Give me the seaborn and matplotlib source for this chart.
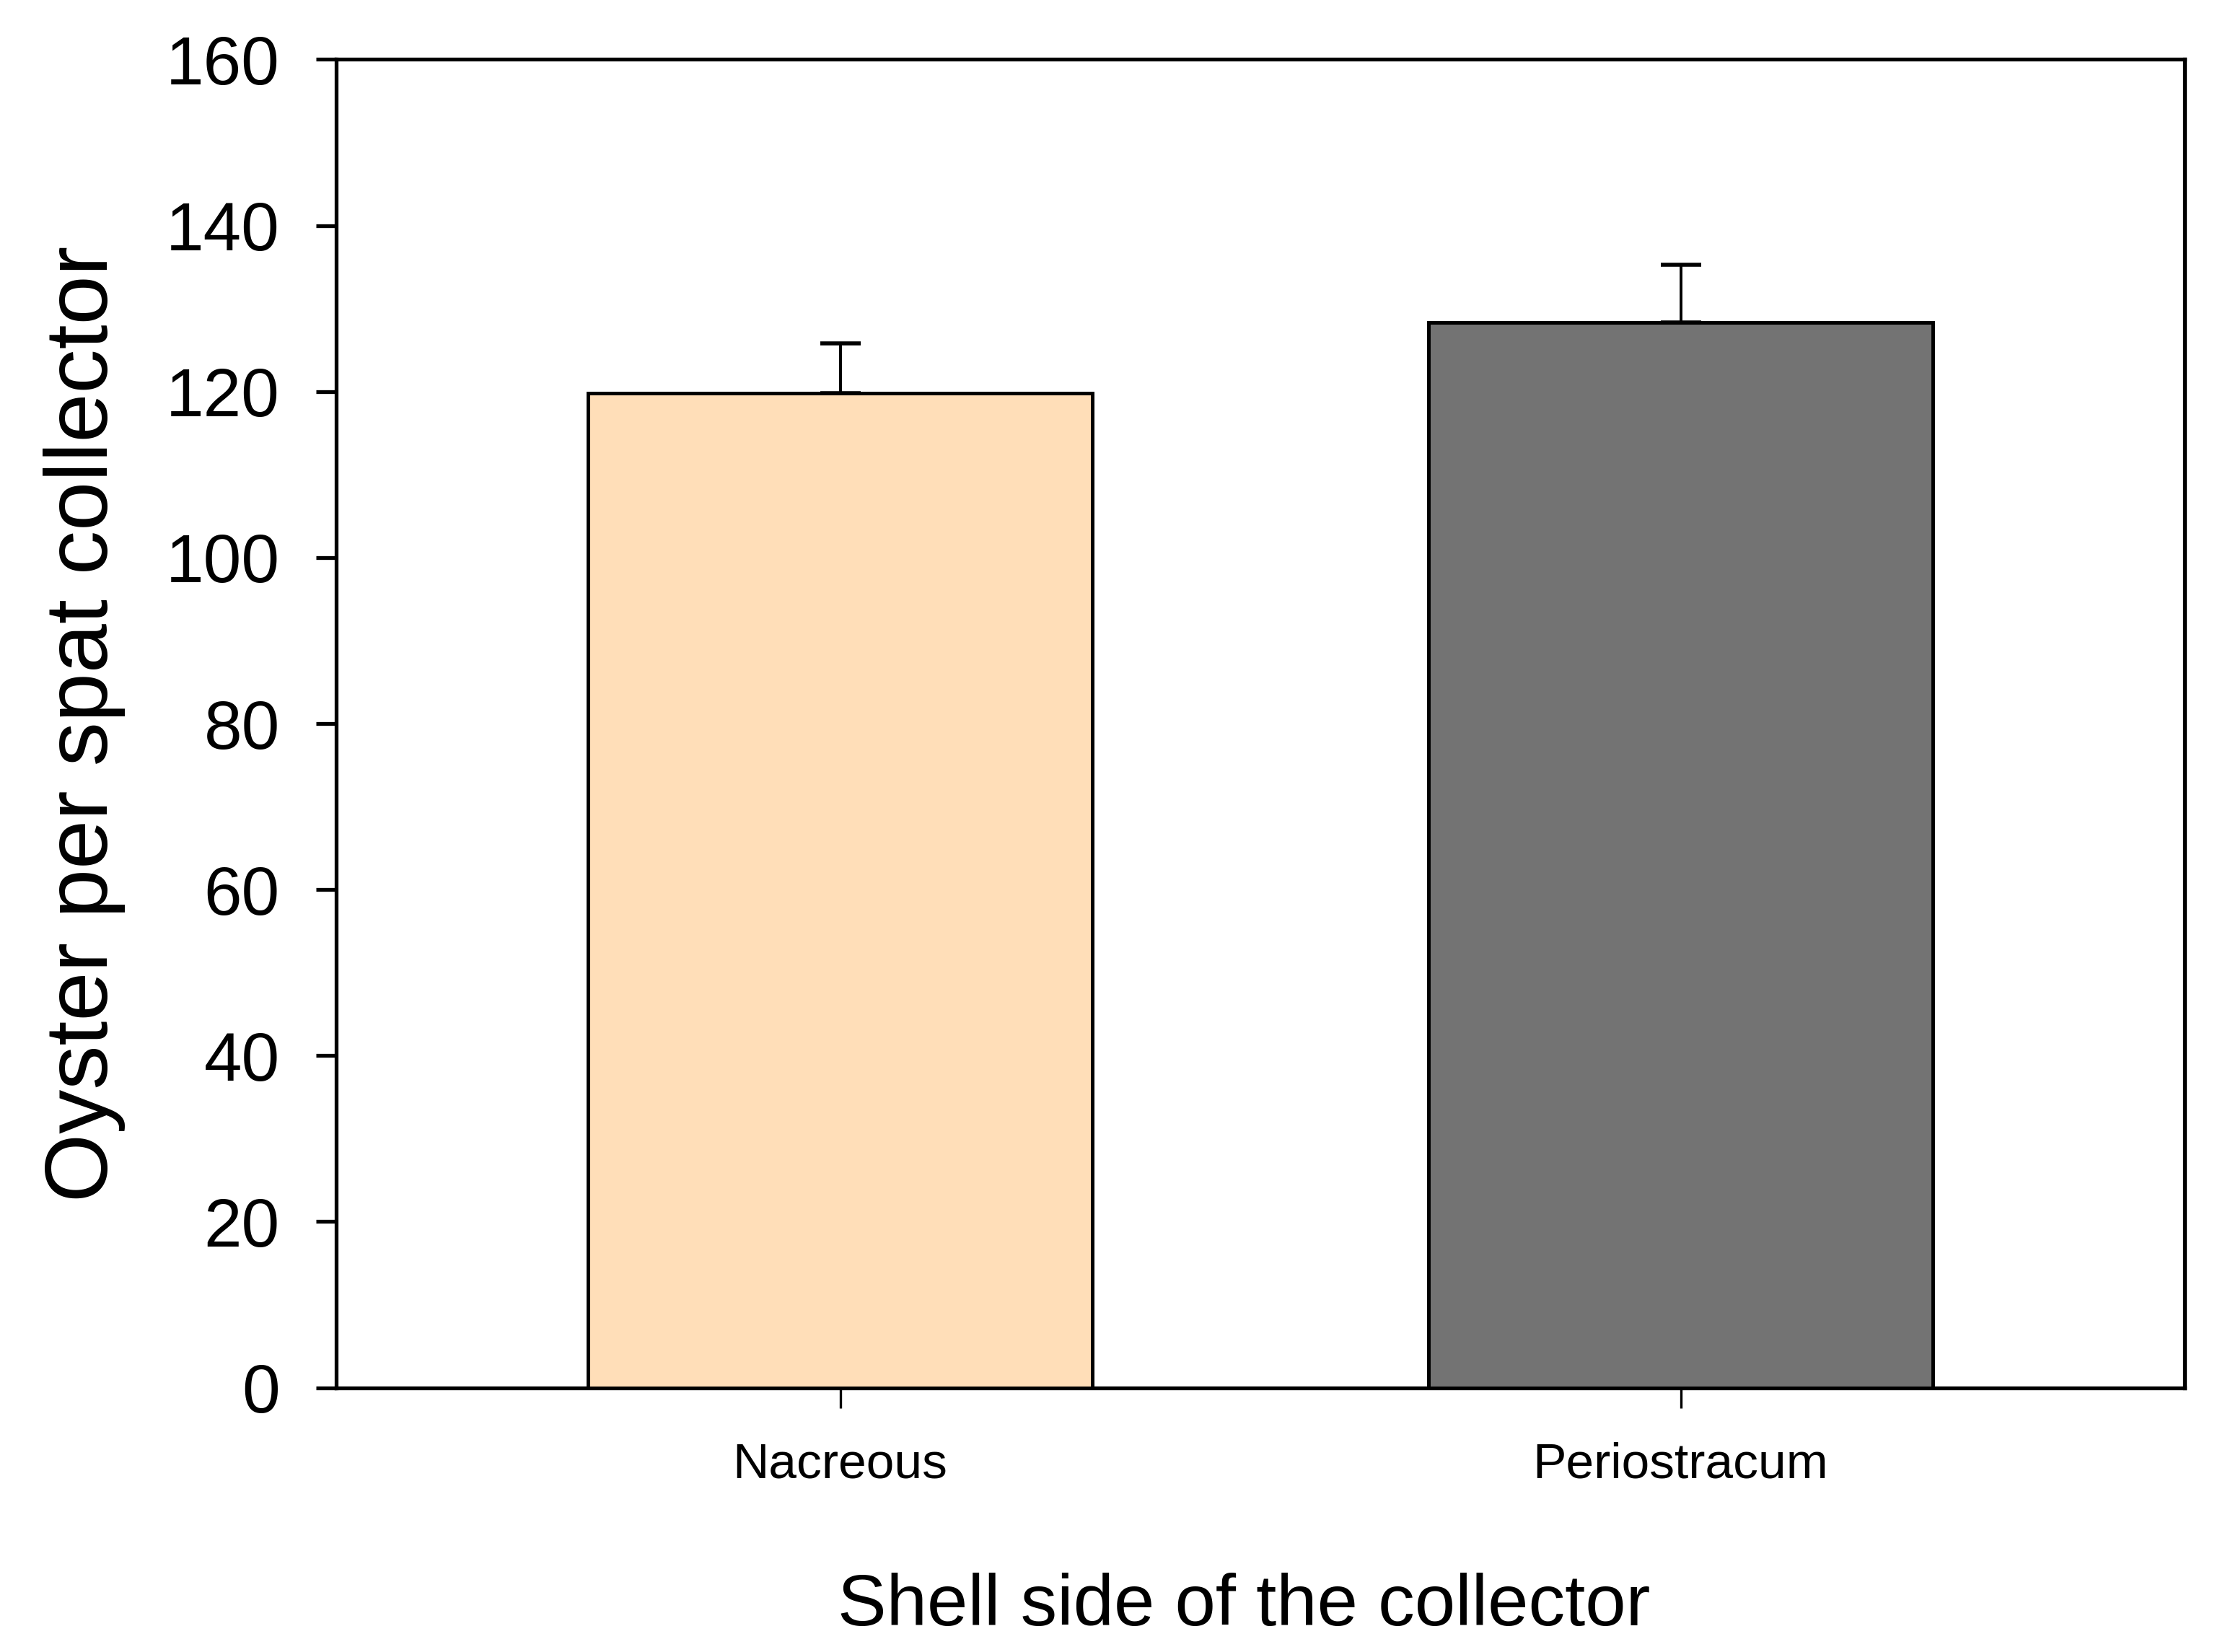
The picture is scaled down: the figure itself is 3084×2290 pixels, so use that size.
"""
Oyster spat per collector, by shell side (bar + SE).
"""

import numpy as np
import pandas as pd
import matplotlib
matplotlib.use('Agg')
import matplotlib.pyplot as plt
import seaborn as sns

# ------------------------------------------------------------------
# DATOS
# ------------------------------------------------------------------
shell_sides = ['Nacreous', 'Periostracum']
mean_oysters = [119.8, 128.3]
se_oysters   = [6.0, 7.0]
bar_colors   = ['#FFDEB8', '#737373']
y_ticks      = [0, 20, 40, 60, 80, 100, 120, 140, 160]

df = pd.DataFrame({'side': shell_sides, 'oysters': mean_oysters})

# ------------------------------------------------------------------
# ESTILO
# ------------------------------------------------------------------
sns.set_style('ticks')
plt.rcParams['font.family'] = ['Liberation Sans', 'DejaVu Sans']
plt.rcParams['text.color'] = 'black'
plt.rcParams['axes.labelcolor'] = 'black'
plt.rcParams['xtick.color'] = 'black'
plt.rcParams['ytick.color'] = 'black'

fig = plt.figure(figsize=(15.42, 11.45), dpi=200)
ax = fig.add_axes([0.151, 0.160, 0.831, 0.804])

sns.barplot(
    data=df, x='side', y='oysters', hue='side',
    palette=bar_colors, width=0.6, edgecolor='black', linewidth=1.8,
    errorbar=None, legend=False, ax=ax, zorder=3, saturation=1,
)

# barras de error: solo la mitad superior (SE)
x_pos = np.arange(len(shell_sides))
ax.errorbar(
    x_pos, mean_oysters,
    yerr=[np.zeros(len(se_oysters)), se_oysters],
    fmt='none', ecolor='black', elinewidth=1.4,
    capsize=10, capthick=2.0, zorder=2,
)

ax.set_xlim(-0.6, 1.6)
ax.set_ylim(0, 160)
ax.set_yticks(y_ticks)

for side in ['top', 'right', 'left', 'bottom']:
    ax.spines[side].set_visible(True)
    ax.spines[side].set_linewidth(1.9)
    ax.spines[side].set_color('black')

ax.tick_params(axis='y', direction='out', length=10, width=1.9,
               labelsize=34, pad=18, colors='black')
ax.tick_params(axis='x', direction='out', length=10, width=1.2,
               labelsize=25, pad=17, colors='black')

ax.set_xlabel('Shell side of the collector', fontsize=36.5, labelpad=42)
ax.xaxis.set_label_coords(0.491, -0.139)
ax.set_ylabel('Oyster per spat collector', fontsize=44, labelpad=20)

fig.savefig('out.png', dpi=200, facecolor='white')
